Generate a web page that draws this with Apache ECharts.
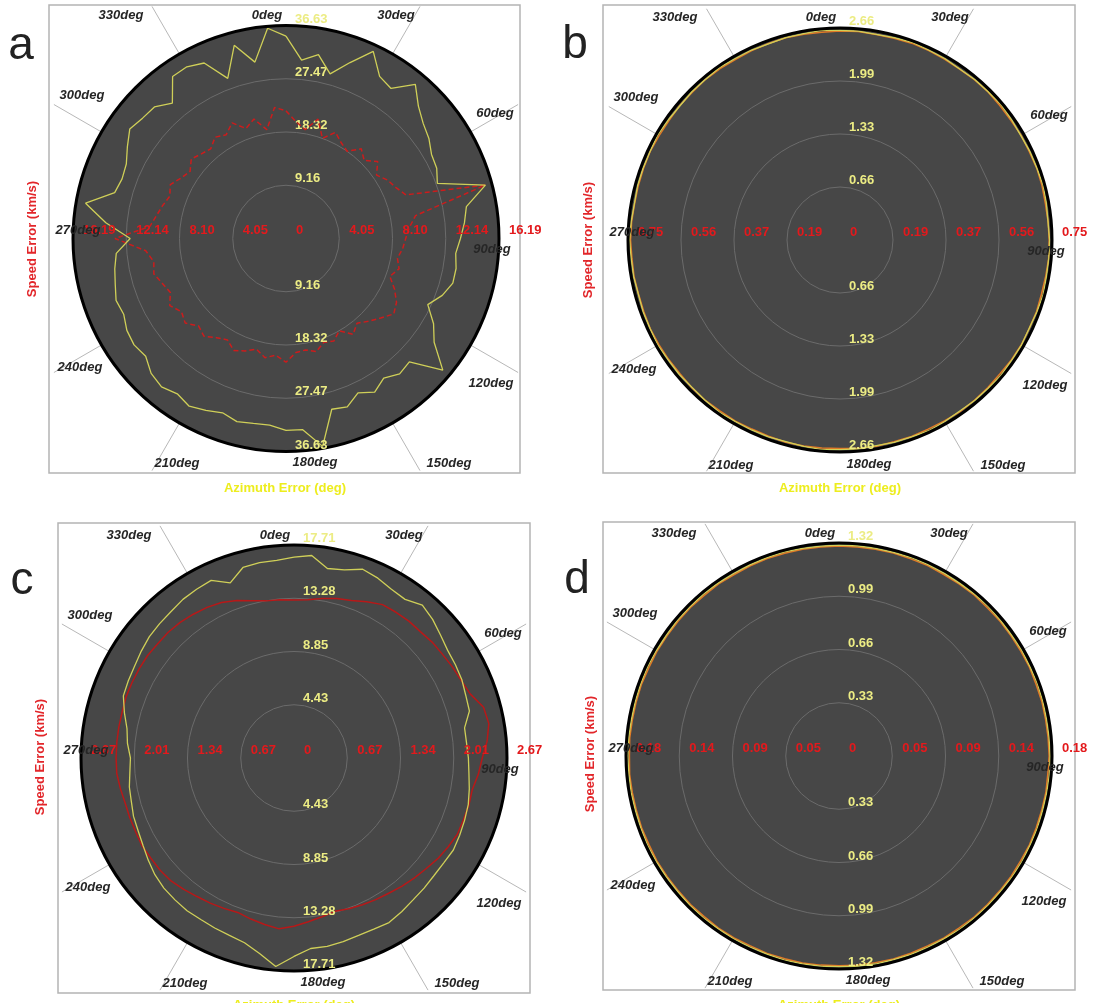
<!DOCTYPE html>
<html><head><meta charset="utf-8">
<script src="https://cdn.jsdelivr.net/npm/echarts@6/dist/echarts.min.js"></script>
<style>html,body{margin:0;padding:0;background:#fff}#c{width:1099px;height:1003px}</style>
</head><body><div id="c"></div><script>
// ---------------- DATA ----------------
const angles = [0,5,10,15,20,25,30,35,40,45,50,55,60,65,70,75,80,85,90,95,100,105,110,115,
  120,125,130,135,140,145,150,155,160,165,170,175,180,185,190,195,200,205,210,215,220,225,230,235,
  240,245,250,255,260,265,270,275,280,285,290,295,300,305,310,315,320,325,330,335,340,345,350,355];
const angleLabels = ['0deg','30deg','60deg','90deg','120deg','150deg','180deg','210deg','240deg','270deg','300deg','330deg'];

// panel a
const azimuthA = [34.8,30.8,32.1,29.3,32.2,35.5,32.2,31.5,34.6,32.2,30.8,30.0,28.9,28.6,27.7,35.5,31.5,30.8,30.0,29.3,29.7,29.7,28.6,26.9,
  29.3,31.1,35.2,30.0,30.4,29.3,30.5,29.3,30.8,30.4,36.3,33.0,33.0,32.2,32.3,32.6,31.9,32.6,33.3,32.6,33.3,32.8,31.5,31.9,
  31.6,30.8,31.1,30.4,29.9,29.3,26.8,31.1,35.0,30.5,30.0,30.3,31.5,32.8,32.2,32.0,30.4,34.0,34.1,33.3,29.3,34.4,30.8,36.3];
const speedA = [9.7,8.9,8.4,9.4,8.1,8.9,8.4,8.1,8.9,8.4,9.1,8.4,8.9,9.2,9.7,15.7,10.0,9.4,9.1,8.9,8.6,8.9,8.4,9.1,
  9.7,10.0,9.4,8.9,8.4,8.9,8.1,8.6,8.4,8.9,8.6,8.7,9.4,8.9,9.2,8.7,9.1,9.4,8.9,9.2,9.7,9.4,10.0,9.7,
  10.2,9.7,10.0,10.4,10.2,10.7,13.0,10.4,10.0,9.7,9.4,9.7,9.2,8.9,9.4,9.1,8.9,9.4,9.1,9.7,8.9,9.4,8.4,10.0];
const azTicksA = ['0','9.16','18.32','27.47','36.63'];
const spTicksA = ['0','4.05','8.10','12.14','16.19'];

// panel b
const azimuthB = [2.63,2.63,2.62,2.63,2.64,2.63,2.63,2.62,2.63,2.63,2.64,2.63,2.62,2.63,2.63,2.64,2.63,2.62,2.63,2.63,2.63,2.64,2.63,2.62,
  2.63,2.63,2.64,2.63,2.63,2.62,2.63,2.64,2.63,2.63,2.62,2.63,2.63,2.64,2.63,2.62,2.63,2.63,2.63,2.64,2.63,2.62,2.63,2.63,
  2.64,2.63,2.63,2.62,2.63,2.63,2.64,2.63,2.62,2.63,2.63,2.63,2.64,2.63,2.62,2.63,2.63,2.64,2.63,2.63,2.62,2.63,2.63,2.64];
const speedB = [0.739,0.740,0.738,0.739,0.741,0.740,0.739,0.738,0.740,0.741,0.739,0.738,0.740,0.739,0.741,0.740,0.738,0.739,0.740,0.741,0.739,0.738,0.740,0.739,
  0.741,0.740,0.738,0.739,0.740,0.741,0.739,0.738,0.740,0.739,0.741,0.740,0.738,0.739,0.740,0.741,0.739,0.738,0.740,0.739,0.741,0.740,0.738,0.739,
  0.740,0.741,0.739,0.738,0.740,0.739,0.741,0.740,0.738,0.739,0.740,0.741,0.739,0.738,0.740,0.739,0.741,0.740,0.738,0.739,0.740,0.741,0.739,0.738];
const azTicksB = ['0','0.66','1.33','1.99','2.66'];
const spTicksB = ['0','0.19','0.37','0.56','0.75'];

// panel c
const azimuthC = [16.7,16.9,16.0,16.2,16.7,16.5,16.2,16.1,16.6,16.3,15.9,15.6,15.5,15.4,15.2,15.1,14.4,14.4,14.5,14.6,14.8,15.0,15.1,15.2,
  15.3,15.2,15.2,15.3,15.4,15.6,15.8,15.7,15.7,15.8,15.9,15.9,16.5,17.4,16.5,15.9,15.7,15.6,15.5,15.5,15.4,15.3,15.1,14.8,
  14.5,14.3,14.2,14.0,13.9,13.7,13.6,13.9,14.1,14.6,15.1,15.2,15.3,15.5,15.7,15.8,15.9,16.1,16.2,16.3,15.5,16.4,16.5,16.5];
const speedC = [1.98,1.99,2.03,2.07,2.10,2.16,2.22,2.23,2.24,2.24,2.26,2.27,2.29,2.31,2.35,2.46,2.48,2.43,2.36,2.32,2.27,2.27,2.26,2.26,
  2.23,2.20,2.16,2.13,2.10,2.07,2.05,2.03,2.01,1.99,2.02,2.06,2.11,2.15,2.12,2.09,2.06,2.08,2.10,2.12,2.15,2.18,2.19,2.19,
  2.20,2.19,2.19,2.19,2.21,2.23,2.23,2.23,2.23,2.23,2.24,2.24,2.24,2.24,2.23,2.23,2.22,2.20,2.18,2.15,2.10,2.04,2.00,1.99];
const azTicksC = ['0','4.43','8.85','13.28','17.71'];
const spTicksC = ['0','0.67','1.34','2.01','2.67'];

// panel d
const azimuthD = [1.307,1.308,1.306,1.307,1.309,1.308,1.307,1.306,1.308,1.309,1.307,1.306,1.308,1.307,1.309,1.308,1.306,1.307,1.308,1.309,1.307,1.306,1.308,1.307,
  1.309,1.308,1.306,1.307,1.308,1.309,1.307,1.306,1.308,1.307,1.309,1.308,1.306,1.307,1.308,1.309,1.307,1.306,1.308,1.307,1.309,1.308,1.306,1.307,
  1.308,1.309,1.307,1.306,1.308,1.307,1.309,1.308,1.306,1.307,1.308,1.309,1.307,1.306,1.308,1.307,1.309,1.308,1.306,1.307,1.308,1.309,1.307,1.306];
const speedD = [0.1775,0.1772,0.1774,0.1776,0.1773,0.1775,0.1771,0.1774,0.1776,0.1772,0.1775,0.1773,0.1774,0.1776,0.1772,0.1775,0.1773,0.1774,0.1776,0.1771,0.1775,0.1773,0.1774,0.1776,
  0.1772,0.1775,0.1773,0.1774,0.1776,0.1772,0.1775,0.1771,0.1774,0.1776,0.1773,0.1775,0.1772,0.1774,0.1776,0.1773,0.1775,0.1771,0.1774,0.1776,0.1772,0.1775,0.1773,0.1774,
  0.1776,0.1772,0.1775,0.1773,0.1774,0.1776,0.1771,0.1775,0.1773,0.1774,0.1776,0.1772,0.1775,0.1773,0.1774,0.1776,0.1772,0.1775,0.1771,0.1774,0.1776,0.1773,0.1775,0.1772];
const azTicksD = ['0','0.33','0.66','0.99','1.32'];
const spTicksD = ['0','0.05','0.09','0.14','0.18'];

// ---------------- STYLE / LAYOUT ----------------
const YEL_LINE = '#cfcf58', YEL_TXT = '#ecec84', RED_LINE = '#cc1c1c', RED_TXT = '#e3191c';
const labelOffsets = [[-19,-223],[110,-223],[209,-125],[206,11],[205,145],[163,225],[29,224],[-109,225],[-206,129],[-208,-8],[-204,-143],[-165,-223]];

const panels = [
  {cx:286, cy:238.5, R:213, box:[49,5,471,468], letter:'a', lp:[21,46], sp:[32,239], az:[285,488],
   az_:azimuthA, sp_:speedA, azT:azTicksA, spT:spTicksA, yMax:36.63, rMax:16.19, dashed:true, redColor:RED_LINE},
  {cx:840, cy:240, R:212, box:[603,5,472,468], letter:'b', lp:[575,45], sp:[588,240], az:[840,488],
   az_:azimuthB, sp_:speedB, azT:azTicksB, spT:spTicksB, yMax:2.66, rMax:0.75, dashed:false, redColor:'#e07a26'},
  {cx:294, cy:758, R:213, box:[58,523,472,470], letter:'c', lp:[22,581], sp:[40,757], az:[294,1005],
   az_:azimuthC, sp_:speedC, azT:azTicksC, spT:spTicksC, yMax:17.71, rMax:2.67, dashed:false, redColor:'#b81818'},
  {cx:839, cy:756, R:213, box:[603,522,472,468], letter:'d', lp:[577,580], sp:[590,754], az:[839,1005],
   az_:azimuthD, sp_:speedD, azT:azTicksD, spT:spTicksD, yMax:1.32, rMax:0.18, dashed:false, redColor:'#e07a26'}
];

const polar = [], angleAxis = [], radiusAxis = [], series = [], graphic = [];
const hidden = {show:false};
function tickFmt(labels, max, skipZero) {
  return function (v) {
    const i = Math.round(v / (max / 4));
    if (skipZero && i === 0) return '';
    return labels[i] || '';
  };
}
const richAngle = {};
labelOffsets.forEach(function (o, i) {
  const dx = o[0], dy = o[1];
  richAngle['s' + i] = {
    padding: [dy > 0 ? 2 * dy : 0, dx < 0 ? -2 * dx : 0, dy < 0 ? -2 * dy : 0, dx > 0 ? 2 * dx : 0],
    fontSize: 13, fontStyle: 'italic', fontWeight: 'bold', color: '#262626', fontFamily: 'Liberation Sans, Arial'
  };
});

function addPolar(p, startAngle, radius, aAxis, rAxis) {
  const idx = polar.length;
  polar.push({center:[p.cx, p.cy], radius: radius});
  angleAxis.push(Object.assign({polarIndex: idx, type:'value', min:0, max:360, interval:30, startAngle: startAngle, clockwise:true,
    axisLine:hidden, axisTick:hidden, axisLabel:hidden, splitLine:hidden, splitArea:hidden, z:0}, aAxis || {}));
  radiusAxis.push(Object.assign({polarIndex: idx, type:'value', min:0, max:1,
    axisLine:hidden, axisTick:hidden, axisLabel:hidden, splitLine:hidden, splitArea:hidden, z:0}, rAxis || {}));
  return idx;
}
function closed(vals) {
  const d = vals.map(function (v, i) { return [v, angles[i]]; });
  d.push([vals[0], 360]);
  return d;
}
const labFont = {fontSize:13, fontWeight:'bold', fontFamily:'Liberation Sans, Arial'};

panels.forEach(function (p) {
  const R = p.R;
  // main: dark disc, spokes, rings, yellow up labels, yellow data
  const iMain = addPolar(p, 90, R,
    {splitLine:{show:true, lineStyle:{color:'#1d1d1d', width:1}}, splitArea:{show:true, areaStyle:{color:['#474747']}}, z:0},
    {max:p.yMax, interval:p.yMax/4, splitLine:{show:true, lineStyle:{color:'#6b6b6b', width:1}},
     axisLabel:Object.assign({show:true, margin:-9, align:'left', verticalAlign:'bottom', color:YEL_TXT,
       formatter: tickFmt(p.azT, p.yMax, true)}, labFont), z:1});
  // outer circle + yellow down labels
  addPolar(p, 270, R,
    {axisLine:{show:true, lineStyle:{color:'#000', width:3}}, z:3},
    {max:p.yMax, interval:p.yMax/4,
     axisLabel:Object.assign({show:true, margin:9, align:'left', verticalAlign:'bottom', color:YEL_TXT,
       formatter: tickFmt(p.azT, p.yMax, true)}, labFont), z:4});
  // red data polar
  const iRed = addPolar(p, 90, R, {}, {max:p.rMax, interval:p.rMax/4});
  // red labels right / left
  addPolar(p, 0, R, {}, {max:p.rMax, interval:p.rMax/4,
     axisLabel:Object.assign({show:true, margin:8, align:'left', verticalAlign:'middle', padding:[0,0,0,10], color:RED_TXT,
       formatter: tickFmt(p.spT, p.rMax, false)}, labFont), z:4});
  addPolar(p, 180, R, {}, {max:p.rMax, interval:p.rMax/4,
     axisLabel:Object.assign({show:true, margin:-8, align:'left', verticalAlign:'middle', padding:[0,0,0,10], color:RED_TXT,
       formatter: tickFmt(p.spT, p.rMax, true)}, labFont), z:4});
  // gray extension lines outside the circle (diagonals only)
  addPolar(p, 60, [R, R + 55], {interval:90, splitLine:{show:true, lineStyle:{color:'#b8b8b8', width:1}}, z:0});
  addPolar(p, 30, [R, R + 55], {interval:90, splitLine:{show:true, lineStyle:{color:'#b8b8b8', width:1}}, z:0});
  // angle labels
  addPolar(p, 90, [R, R + 55], {axisLabel:{show:true, margin:-(R + 55), rich: richAngle,
      formatter: function (v) { const i = Math.round(v / 30); return angleLabels[i] ? '{s' + i + '|' + angleLabels[i] + '}' : ''; }}, z:5});

  series.push({type:'line', coordinateSystem:'polar', polarIndex:iRed, data: closed(p.sp_), symbol:'none', silent:true,
    lineStyle:{color:p.redColor, width:1.5, type: p.dashed ? [5,3] : 'solid'}, z:2});
  series.push({type:'line', coordinateSystem:'polar', polarIndex:iMain, data: closed(p.az_), symbol:'none', silent:true,
    lineStyle:{color:YEL_LINE, width:1.3}, z:2});

  graphic.push({type:'rect', shape:{x:p.box[0], y:p.box[1], width:p.box[2], height:p.box[3]}, z:-1,
    style:{fill:'none', stroke:'#b4b4b4', lineWidth:1.5}});
  graphic.push({type:'text', x:p.lp[0], y:p.lp[1], z:10, style:{text:p.letter, fill:'#222', font:'46px "Liberation Sans", Arial',
    align:'center', verticalAlign:'middle'}});
  graphic.push({type:'text', x:p.sp[0], y:p.sp[1], rotation:Math.PI/2, z:10, style:{text:'Speed Error (km/s)', fill:'#e2262a',
    font:'bold 13px "Liberation Sans", Arial', align:'center', verticalAlign:'middle'}});
  graphic.push({type:'text', x:p.az[0], y:p.az[1], z:10, style:{text:'Azimuth Error (deg)', fill:'#eded1e',
    font:'bold 13px "Liberation Sans", Arial', align:'center', verticalAlign:'middle'}});
});

const chart = echarts.init(document.getElementById('c'), null, {renderer:'canvas'});
chart.setOption({animation:false, backgroundColor:'#ffffff', polar, angleAxis, radiusAxis, series, graphic});
</script></body></html>
